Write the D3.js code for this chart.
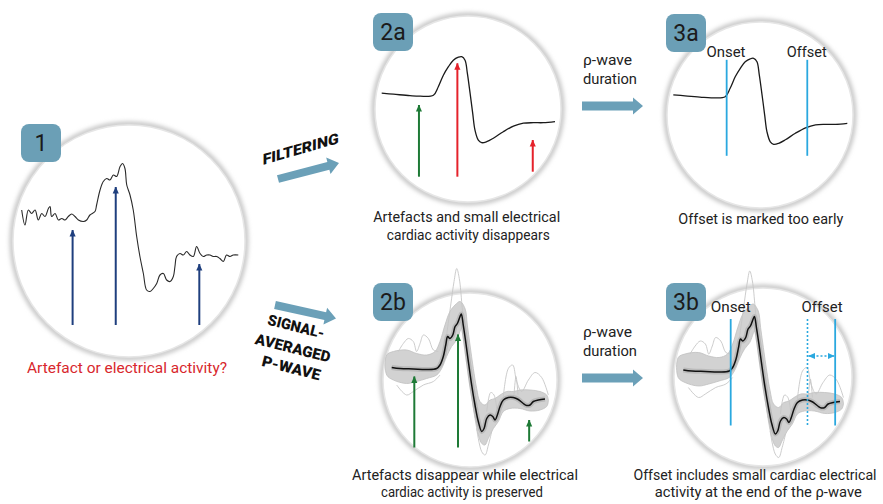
<!DOCTYPE html>
<html><head><meta charset="utf-8">
<script src="https://cdn.jsdelivr.net/npm/d3@7"></script>
<style>body{margin:0;background:#fff} svg{display:block}</style>
</head><body><svg id="c" width="883" height="504"></svg>
<script>
// ---------- DATA (time in ms, amplitude in µV) ----------
// Panel 1: raw single beat
const rawT   = [0,1.8,3.7,5.5,7.4,9.2,11.1,12.9,14.8,15.7,16.6,18.5,20.3,22.2,24.0,25.8,27.7,29.5,31.4,34.2,36.0,37.8,40.6,41.5,43.4,45.2,47.1,48.9,50.8,52.6,54.5,55.9,57.2,58.2,60.0,61.8,63.7,65.5,67.4,69.2,71.1,72.9,74.8,76.6,78.5,80.3,82.2,84.0,84.9,85.8,87.7,89.5,91.4,93.2,95.1,96.9,98.8,100.6,102.5,104.3,106.1,108.0,109.8,111.7,113.5,115.4,117.2,120.0];
const rawAmp = [20,-10,20,13,20,0,13,7,23,27,7,13,0,3,0,7,12,7,0,-3,0,10,17,30,60,77,83,80,90,87,107,113,103,70,50,20,-33,-73,-107,-140,-143,-137,-127,-110,-107,-120,-123,-113,-93,-73,-67,-70,-63,-70,-73,-53,-67,-73,-70,-70,-73,-73,-77,-83,-70,-73,-70,-70];
const rawArrowT   = [28.2, 52.1, 98.4];
const rawArrowTip = [-20, 66, -88];
const rawArrowBase = -210;

// Panels 2a / 3a: filtered beat
const filtT   = [0,8.1,19.6,26.5,35.8,39.2,42.7,46.2,49.6,53.1,55.4,57.7,59.3,61.2,63.0,64.6,66.9,69.2,72.7,77.3,84.2,91.2,98.1,105.0,111.9,120];
const filtAmp = [5,3,0,-1,1,18,41,58,71,77,78,71,45,5,-35,-69,-89,-94,-92,-85,-72,-61,-55,-54,-54,-52];
const filtArrowT    = [25.8, 52.4, 104.6];
const filtArrowTip  = [-18.6, 64.8, -88.6];
const filtArrowBase = [-162, -162, -152];
const filtArrowKind = ["green", "red", "red"];
const filtOnset = 36.8, filtOffset = 92.4;
const filtMarkTop = 75, filtMarkBottom = -117;

// Panels 2b / 3b: signal-averaged beat
const avgT   = [0,6.5,16.9,27.4,35.2,37.8,40.4,42.3,43.8,45.6,47.8,49.6,51.4,53.5,54.5,56.0,57.9,60.0,62.6,65.2,67.8,70.5,72.3,74.4,77.0,79.1,80.9,82.7,84.8,87.4,91.3,95.2,99.1,103.0,105.7,108.3,110.9,114.8,120];
const avgAmp = [3,1,0,-1,1,8,25,48,65,61,68,85,91,105,110,88,55,15,-32,-72,-105,-125,-119,-99,-92,-95,-102,-92,-75,-62,-57,-57,-61,-69,-73,-72,-65,-62,-60];
// envelope of the individual beats (grey band)
const bandUpT   = [-3.9,1.3,11.7,19.5,27.4,33.9,37.8,41.7,45.6,49.6,53.5,57.4,59.2,61.3,63.9,66.5,69.1,73.0,77.0,80.9,84.8,90.0,95.2,100.4,108.3,116.1,121.3,122.6];
const bandUpAmp = [28,35,38,31,28,35,55,88,115,128,135,121,88,48,1,-39,-65,-72,-62,-59,-52,-45,-45,-42,-42,-45,-52,-62];
const bandLoT   = [-3.9,1.3,11.7,19.5,27.4,35.2,39.1,43.0,46.9,50.9,54.8,57.4,60.0,62.6,65.2,67.8,70.5,73.0,75.6,79.6,83.5,87.4,92.6,100.4,108.3,116.1,121.3,122.6];
const bandLoAmp = [-12,-22,-29,-25,-19,-12,1,25,45,58,81,51,-5,-52,-99,-132,-149,-152,-139,-119,-105,-85,-79,-79,-84,-82,-75,-65];
// a few outlying single beats
const outA_T = [5.2,9.1,13.0,16.9,19.5,22.2,24.8,28.7,32.6,36.5], outA_Amp = [35,51,61,55,35,51,68,61,38,35];
const outB_T = [3.9,11.7,16.9,24.8,32.6,37.8],                   outB_Amp = [-32,-52,-45,-32,-25,-12];
const outC_T = [43.0,46.2,48.8,50.9,52.9,55.0,57.6],             outC_Amp = [68,128,175,201,181,128,48];
const outD_T = [87.4,91.3,94.7,97.8,101.7,107.0,112.2,117.4,122.6], outD_Amp = [-55,1,8,-25,-45,-22,-7,-17,-52];
const outE_T = [95.7,97.3,98.9],                                  outE_Amp = [-52,-15,-52];
const outF_T = [66.5,70.4,73.1,75.7,78.3],                        outF_Amp = [-119,-165,-172,-152,-125];
const outG_T = [74.4,77.5,80.1,82.2],                             outG_Amp = [-85,-47,-52,-79];
const avgArrowT    = [17.7, 51.9, 107.6];
const avgArrowTip  = [-15, 69, -102];
const avgArrowBase = [-157, -157, -145];
const avgOnset = 36.3, avgOffsetEarly = 95.1, avgOffset = 116.3;
const avgMarkTop = 105, avgMarkBottom = -108, avgSpanAmp = 31;

// ---------- DRAWING ----------
const svg = d3.select('#c');
const defs = svg.append('defs');
defs.append('filter').attr('id','blur').attr('x','-20%').attr('y','-20%').attr('width','140%').attr('height','140%')
  .append('feGaussianBlur').attr('stdDeviation', 2.2);

const COL = {navy:'#1f3f7e', green:'#1e7a36', red:'#e5222b', blue:'#2aa8df', badge:'#6b9fb6', arrow:'#6ba0b8'};
function marker(id, color){
  defs.append('marker').attr('id',id).attr('viewBox','0 0 8 8').attr('refX',7.5).attr('refY',4)
    .attr('markerWidth',7).attr('markerHeight',7).attr('markerUnits','userSpaceOnUse')
    .attr('orient','auto-start-reverse')
    .append('path').attr('d','M0,0.5 L8,4 L0,7.5 Z').attr('fill',color);
}
marker('m-navy', COL.navy); marker('m-green', COL.green); marker('m-red', COL.red); marker('m-blue', COL.blue);

const FONT = 'Roboto, "Open Sans", sans-serif';

function circle(cx, cy, r){
  svg.append('circle').attr('cx',cx).attr('cy',cy).attr('r',r+1).attr('fill','none')
    .attr('stroke','#c4c4c4').attr('stroke-width',5).attr('filter','url(#blur)');
  svg.append('circle').attr('cx',cx).attr('cy',cy).attr('r',r).attr('fill','#fff')
    .attr('stroke','#e6e6e6').attr('stroke-width',1.5);
}
function badge(x, y, label){
  svg.append('rect').attr('x',x).attr('y',y).attr('width',40).attr('height',38).attr('rx',8).attr('fill',COL.badge);
  svg.append('text').attr('x',x+20).attr('y',y+27).attr('text-anchor','middle')
    .attr('font-family',FONT).attr('font-size',23).attr('fill','#1b1b1b').text(label);
}
function text(x, y, str, o={}){
  const t = svg.append('text').attr('x',x).attr('y',y).attr('text-anchor',o.anchor||'middle')
    .attr('font-family',FONT).attr('font-size',o.size||14.5).attr('fill',o.fill||'#222')
    .attr('font-weight',o.weight||400).text(str);
  if (o.width) t.attr('textLength',o.width).attr('lengthAdjust','spacingAndGlyphs');
  return t;
}
function blockArrow(x1,y1,x2,y2,sw,hl,hw){
  const L = Math.hypot(x2-x1,y2-y1), a = Math.atan2(y2-y1,x2-x1)*180/Math.PI;
  svg.append('path')
    .attr('d',`M0,${-sw/2} L${L-hl},${-sw/2} L${L-hl},${-hw/2} L${L},0 L${L-hl},${hw/2} L${L-hl},${sw/2} L0,${sw/2} Z`)
    .attr('transform',`translate(${x1},${y1}) rotate(${a})`).attr('fill',COL.arrow);
}
function scales(x0, x1, base){
  const x = d3.scaleLinear().domain([0,120]).range([x0,x1]);
  const y = d3.scaleLinear().domain([0,100]).range([base, base-50]);
  const line = d3.line().x(d=>x(d[0])).y(d=>y(d[1])).curve(d3.curveCatmullRom.alpha(0.5));
  return {x, y, line};
}
function vArrow(s, t, from, to, color, w){
  svg.append('line').attr('x1',s.x(t)).attr('x2',s.x(t)).attr('y1',s.y(from)).attr('y2',s.y(to))
    .attr('stroke',COL[color]).attr('stroke-width',w||2).attr('marker-end',`url(#m-${color})`);
}
function trace(s, T, A, color, w){
  svg.append('path').attr('d', s.line(d3.zip(T,A))).attr('fill','none')
    .attr('stroke',color).attr('stroke-width',w).attr('stroke-linejoin','round');
}
function averagedBeat(s){
  const poly = d3.zip(bandUpT, bandUpAmp).concat(d3.zip(bandLoT, bandLoAmp).reverse());
  const closed = d3.line().x(d=>s.x(d[0])).y(d=>s.y(d[1])).curve(d3.curveCatmullRomClosed.alpha(0.5));
  svg.append('path').attr('d', closed(poly)).attr('fill','#d2d2d2').attr('stroke','#c0c0c0').attr('stroke-width',0.8);
  [[outA_T,outA_Amp],[outB_T,outB_Amp],[outC_T,outC_Amp],[outD_T,outD_Amp],[outE_T,outE_Amp],[outF_T,outF_Amp],[outG_T,outG_Amp]]
    .forEach(([T,A]) => trace(s, T, A, '#c6c6c6', 0.9));
  trace(s, avgT, avgAmp, '#bababa', 5);
  trace(s, avgT, avgAmp, '#111', 1.5);
}

// Circles
circle(129, 241, 116);
circle(468, 109, 93);
circle(760, 115, 93);
circle(470, 380, 87);
circle(763, 377, 89);

// Panel 1
const s1 = scales(21.7, 238.3, 220);
trace(s1, rawT, rawAmp, '#2a2a2a', 1.1);
rawArrowT.forEach((t,i) => vArrow(s1, t, rawArrowBase, rawArrowTip[i], 'navy', 2));

// Panel 2a
const s2a = scales(381.7, 555, 95.7);
trace(s2a, filtT, filtAmp, '#1a1a1a', 1.3);
filtArrowT.forEach((t,i) => vArrow(s2a, t, filtArrowBase[i], filtArrowTip[i], filtArrowKind[i], 2));

// Panel 3a
const s3a = scales(673.3, 847.3, 97.3);
trace(s3a, filtT, filtAmp, '#1a1a1a', 1.3);
[filtOnset, filtOffset].forEach(t => {
  svg.append('line').attr('x1',s3a.x(t)).attr('x2',s3a.x(t)).attr('y1',s3a.y(filtMarkTop)).attr('y2',s3a.y(filtMarkBottom))
    .attr('stroke',COL.blue).attr('stroke-width',1.8);
});

// Panel 2b
const s2b = scales(391.7, 545, 369);
averagedBeat(s2b);
avgArrowT.forEach((t,i) => vArrow(s2b, t, avgArrowBase[i], avgArrowTip[i], 'green', 2));

// Panel 3b
const s3b = scales(683.3, 840, 371.5);
averagedBeat(s3b);
[avgOnset, avgOffset].forEach(t => {
  svg.append('line').attr('x1',s3b.x(t)).attr('x2',s3b.x(t)).attr('y1',s3b.y(avgMarkTop)).attr('y2',s3b.y(avgMarkBottom))
    .attr('stroke',COL.blue).attr('stroke-width',1.8);
});
svg.append('line').attr('x1',s3b.x(avgOffsetEarly)).attr('x2',s3b.x(avgOffsetEarly))
  .attr('y1',s3b.y(avgMarkTop)).attr('y2',s3b.y(avgMarkBottom))
  .attr('stroke',COL.blue).attr('stroke-width',1.6).attr('stroke-dasharray','2,2');
svg.append('line').attr('x1',s3b.x(avgOffsetEarly)+1).attr('x2',s3b.x(avgOffset)-1)
  .attr('y1',s3b.y(avgSpanAmp)).attr('y2',s3b.y(avgSpanAmp))
  .attr('stroke',COL.blue).attr('stroke-width',1.6).attr('stroke-dasharray','2,2')
  .attr('marker-start','url(#m-blue)').attr('marker-end','url(#m-blue)');

// Badges
badge(21, 124, '1');
badge(373, 13, '2a');
badge(666, 14, '3a');
badge(373, 283, '2b');
badge(666, 283, '3b');

// Onset / Offset labels
text(726, 57, 'Onset', {size:15.5, width:39});
text(806.7, 57, 'Offset', {size:15.5, width:40});
text(730.7, 312, 'Onset', {size:15.5, width:40});
text(822, 312, 'Offset', {size:15.5, width:41});

// Captions
text(127, 373, 'Artefact or electrical activity?', {size:15.5, width:200, fill:'#d8272d'});
text(466.7, 222, 'Artefacts and small electrical', {width:187});
text(468.3, 239.5, 'cardiac activity disappears', {width:163});
text(760.8, 224, 'Offset is marked too early', {width:165});
text(465, 479.5, 'Artefacts disappear while electrical', {width:226});
text(462, 497, 'cardiac activity is preserved', {width:162});
text(755, 479.5, 'Offset includes small cardiac electrical', {size:13.8, width:243});
text(758.3, 497, 'activity at the end of the ρ-wave', {width:207});

// p-wave duration labels + arrows
text(583, 65, 'ρ-wave', {size:15.5, anchor:'start', width:49});
text(583, 83.5, 'duration', {size:15.5, anchor:'start', width:54});
text(583, 336.7, 'ρ-wave', {size:15.5, anchor:'start', width:49});
text(583, 356, 'duration', {size:15.5, anchor:'start', width:54});
blockArrow(582, 106, 643, 106, 9, 10, 17);
blockArrow(582, 378, 643, 378, 9, 10, 17);

// Method arrows + labels
blockArrow(278, 179, 339, 163, 8, 11, 17);
blockArrow(275, 305, 336, 318.5, 8, 11, 17);
svg.append('text').attr('transform','translate(300.7,154) skewY(-16)').attr('text-anchor','middle')
  .attr('font-family',FONT).attr('font-weight',900).attr('font-size',15).attr('fill','#111')
  .attr('textLength',76).attr('lengthAdjust','spacingAndGlyphs').text('FILTERING');
[['SIGNAL-',295,331.5,58],['AVERAGED',291.7,353,77],['P-WAVE',290,373,60]].forEach(([s,x,y,w]) => {
  svg.append('text').attr('transform',`translate(${x},${y}) rotate(14)`).attr('text-anchor','middle')
    .attr('font-family',FONT).attr('font-weight',900).attr('font-size',15).attr('fill','#111')
    .attr('textLength',w).attr('lengthAdjust','spacingAndGlyphs').text(s);
});
</script></body></html>
